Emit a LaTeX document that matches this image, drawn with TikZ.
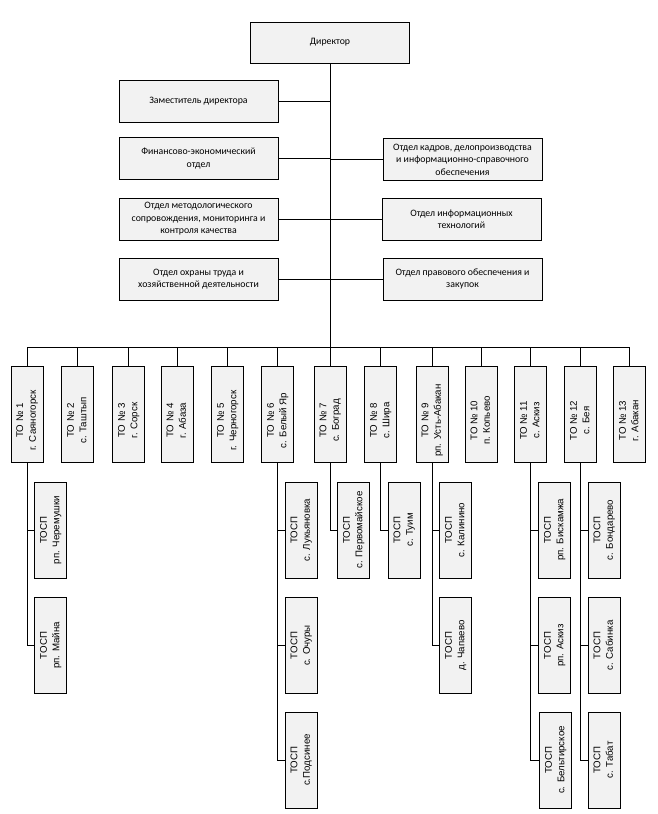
\documentclass[tikz,border=0pt]{standalone}
\usepackage{fontspec}
\usepackage{graphicx}
\newfontfamily\calfont{Carlito}
\newfontfamily\arfont{Liberation Sans}
\definecolor{boxGrey}{HTML}{F2F2F2}
\newcommand{\vlab}[3][0pt]{\rotatebox{90}{\begin{tabular}{@{}c@{}}#2\\#3\end{tabular}\hspace*{#1}}}
\tikzset{
  dept/.style={draw, fill=boxGrey, line width=1pt, minimum width=159pt, minimum height=42pt,
    align=center, inner sep=2pt, font=\calfont\fontsize{9.8}{12.5}\selectfont},
  tobox/.style={draw, fill=boxGrey, line width=1pt, minimum width=32pt, minimum height=96pt,
    inner sep=0pt, font=\arfont\fontsize{9.7}{12.5}\selectfont},
  link/.style={line width=1pt},
}

\begin{document}
\begin{tikzpicture}[x=1pt, y=-1pt]
  \useasboundingbox[fill=white] (0,0) rectangle (658,814);

  % head and departments
  \node[dept, minimum height=41pt] (dir) at (330,42.5) {Директор};
  \node[dept] (dep) at (198.5,101) {Заместитель директора};
  \node[dept] (fin) at (198.5,158.5) {Финансово-экономический\\отдел};
  \node[dept] (kad) at (462.5,159.5) {Отдел кадров, делопроизводства\\и информационно-справочного\\обеспечения};
  \node[dept] (met) at (198.5,219) {Отдел методологического\\сопровождения, мониторинга и\\контроля качества};
  \node[dept] (itt) at (461.5,219) {Отдел информационных\\технологий};
  \node[dept] (okh) at (198.5,279) {Отдел охраны труда и\\хозяйственной деятельности};
  \node[dept] (pra) at (462.5,279) {Отдел правового обеспечения и\\закупок};

  \foreach \d in {dep,fin,met,okh}
    \draw[link] (\d.east) -- (\d.east -| dir.south);
  \foreach \d in {kad,itt,pra}
    \draw[link] (\d.west) -- (\d.west -| dir.south);

  % territorial offices
  \foreach \i/\x/\place in {1/27/г. Саяногорск, 2/77.5/с. Таштып, 3/128.5/г. Сорск,
      4/177/г. Абаза, 5/227.5/г. Черногорск, 6/277.5/с. Белый Яр, 7/330/с. Боград,
      8/380.5/с. Шира, 9/432/рп. Усть-Абакан, 10/481/п. Копьево, 11/530.5/с. Аскиз,
      12/580.5/с. Бея, 13/629.5/г. Абакан}
    \node[tobox] (to\i) at (\x,414.5) {\vlab[12pt]{ТО № \i}{\place}};

  \draw[link] (dir.south) -- (dir.south |- 0,347);
  \draw[link] (to1.north) -- ++(0,-19) -| (to13.north);
  \foreach \i in {2,...,12}
    \draw[link] (to\i.north) -- ++(0,-19);

  % TOSP
  \foreach \n/\x/\y/\place in {1a/50.5/530/рп. Черемушки, 1b/50.5/645.5/рп. Майна,
      6a/301/530/с. Лукьяновка, 6b/301/645.5/с. Очуры, 6c/301/760/с.Подсинее,
      7a/353.5/530/с. Первомайское, 8a/404/530/с. Туим,
      9a/455.5/530/с. Калинино, 9b/455.5/645.5/д. Чапаево,
      11a/554.5/530/рп. Бискамжа, 11b/554.5/645.5/рп. Аскиз, 11c/555.5/760/с. Бельтирское,
      12a/604/530/с. Бондарево, 12b/604/645.5/с. Сабинка, 12c/604/760/с. Табат}
    \node[tobox] (s\n) at (\x,\y) {\vlab{ТОСП}{\place}};

  \foreach \c/\s in {1/1b, 6/6c, 7/7a, 8/8a, 9/9b, 11/11c, 12/12c}
    \draw[link] (to\c.south) |- (s\s.west);
  \foreach \c/\s in {1/1a, 6/6a, 6/6b, 9/9a, 11/11a, 11/11b, 12/12a, 12/12b}
    \draw[link] (to\c.south |- s\s.west) -- (s\s.west);
\end{tikzpicture}
\end{document}
